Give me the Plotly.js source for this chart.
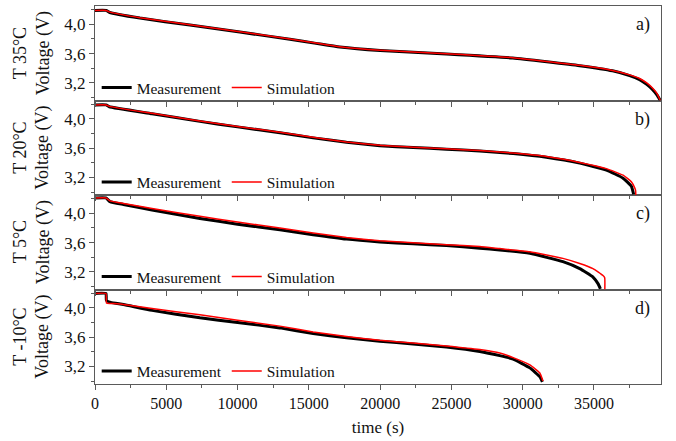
<!DOCTYPE html>
<html>
<head>
<meta charset="utf-8">
<script src="https://cdn.plot.ly/plotly-3.0.1.min.js"></script>
<style>html,body{margin:0;padding:0;background:#fff;}#chart{width:676px;height:441px;}</style>
</head>
<body>
<div id="chart"></div>
<script>
// ---- Data (time in s, voltage in V) ----
const panelLabels = ['a)', 'b)', 'c)', 'd)'];
const temperatures = ['T 35°C', 'T 20°C', 'T 5°C', 'T -10°C'];
const seriesNames = ['Measurement', 'Simulation'];
const xTickValues = [0, 5000, 10000, 15000, 20000, 25000, 30000, 35000];
const yTickValues = [3.2, 3.6, 4.0];

// a) 35 °C
const tA_meas = [0, 780, 1000, 3150, 6660, 10160, 13670, 15500, 17170, 20000, 24650, 29300, 34000, 36300, 37500, 38200, 38700, 39100, 39400, 39650];
const vA_meas = [4.19, 4.19, 4.165, 4.085, 3.99, 3.895, 3.795, 3.74, 3.69, 3.642, 3.595, 3.54, 3.435, 3.365, 3.30, 3.245, 3.18, 3.11, 3.04, 2.96];
const tA_sim  = [0, 780, 1000, 3150, 6660, 10160, 13670, 15500, 17170, 20000, 24650, 29300, 34000, 36300, 37500, 38200, 38700, 39100, 39400, 39650];
const vA_sim  = [4.19, 4.19, 4.17, 4.09, 3.995, 3.9, 3.80, 3.745, 3.695, 3.645, 3.598, 3.545, 3.44, 3.37, 3.31, 3.26, 3.20, 3.13, 3.06, 2.96];

// b) 20 °C
const tB_meas = [0, 780, 1000, 4000, 7360, 10000, 12970, 15300, 17640, 19980, 22310, 24650, 26990, 29330, 31660, 34000, 35870, 37040, 37620, 37780];
const vB_meas = [4.19, 4.19, 4.165, 4.07, 3.965, 3.89, 3.81, 3.74, 3.68, 3.633, 3.607, 3.586, 3.56, 3.525, 3.475, 3.395, 3.30, 3.19, 3.08, 2.97];
const tB_sim  = [0, 780, 1000, 4000, 7360, 10000, 12970, 15300, 17640, 19980, 22310, 24650, 26990, 29330, 31660, 34000, 35870, 37040, 37620, 37850, 37920, 37930];
const vB_sim  = [4.19, 4.19, 4.17, 4.075, 3.97, 3.895, 3.817, 3.747, 3.685, 3.638, 3.612, 3.591, 3.566, 3.532, 3.485, 3.405, 3.32, 3.23, 3.14, 3.06, 3.02, 2.96];

// c) 5 °C
const tC_meas = [0, 770, 1050, 2000, 4000, 7360, 10000, 12970, 15300, 17640, 19980, 22310, 24650, 26990, 28390, 30500, 32820, 34000, 34930, 35280, 35450];
const vC_meas = [4.21, 4.21, 4.16, 4.12, 4.045, 3.93, 3.852, 3.775, 3.708, 3.648, 3.61, 3.583, 3.56, 3.523, 3.50, 3.454, 3.34, 3.245, 3.13, 3.04, 2.97];
const tC_sim  = [0, 770, 1050, 2000, 4000, 7360, 10000, 12970, 15300, 17640, 19980, 22310, 24650, 26990, 28390, 30500, 32820, 34000, 34930, 35280, 35630, 35750, 35760];
const vC_sim  = [4.21, 4.21, 4.17, 4.135, 4.065, 3.96, 3.88, 3.80, 3.73, 3.67, 3.625, 3.597, 3.572, 3.546, 3.518, 3.476, 3.385, 3.315, 3.245, 3.20, 3.15, 3.12, 2.96];

// d) -10 °C
const tD_meas = [0, 770, 800, 1100, 2000, 4000, 7360, 10000, 12970, 15300, 17640, 19980, 22310, 24650, 26990, 28390, 29330, 30500, 31200, 31380];
const vD_meas = [4.196, 4.196, 4.10, 4.075, 4.045, 3.965, 3.863, 3.80, 3.726, 3.648, 3.59, 3.543, 3.507, 3.466, 3.405, 3.347, 3.30, 3.18, 3.06, 2.99];
const tD_sim  = [0, 770, 800, 1100, 2000, 4000, 7360, 10000, 12970, 15300, 17640, 19980, 22310, 24650, 26990, 28390, 29330, 30500, 31200, 31420];
const vD_sim  = [4.196, 4.196, 4.065, 4.06, 4.045, 3.99, 3.905, 3.83, 3.75, 3.67, 3.607, 3.556, 3.52, 3.48, 3.43, 3.384, 3.32, 3.22, 3.11, 3.0];

// ---- Build ----
const meas = [[tA_meas, vA_meas], [tB_meas, vB_meas], [tC_meas, vC_meas], [tD_meas, vD_meas]];
const sims = [[tA_sim, vA_sim], [tB_sim, vB_sim], [tC_sim, vC_sim], [tD_sim, vD_sim]];

const FONT = 'Liberation Serif, Times New Roman, serif';
const FRAME = '#5a5a5a';
const domains = [[0.75, 1], [0.5, 0.75], [0.25, 0.5], [0, 0.25]];
const axIdx = [4, 3, 2, 1];

const traces = [];
const layout = {
  width: 676, height: 441,
  margin: {l: 95, r: 15, t: 6, b: 57},
  paper_bgcolor: '#fff', plot_bgcolor: '#fff',
  font: {family: FONT, color: '#111', size: 16},
  separators: ',.',
  showlegend: true,
  annotations: []
};

for (let i = 0; i < 4; i++) {
  const n = axIdx[i];
  const xa = n === 1 ? 'x' : 'x' + n;
  const ya = n === 1 ? 'y' : 'y' + n;
  const lg = i === 0 ? 'legend' : 'legend' + (i + 1);
  traces.push({
    x: meas[i][0], y: meas[i][1], xaxis: xa, yaxis: ya, type: 'scatter', mode: 'lines',
    name: seriesNames[0], legend: lg, line: {color: '#000', width: 3, shape: 'spline', smoothing: 0.4}
  });
  traces.push({
    x: sims[i][0], y: sims[i][1], xaxis: xa, yaxis: ya, type: 'scatter', mode: 'lines',
    name: seriesNames[1], legend: lg, line: {color: '#ff0000', width: 1.5, shape: 'spline', smoothing: 0.4}
  });

  const xKey = n === 1 ? 'xaxis' : 'xaxis' + n;
  const yKey = n === 1 ? 'yaxis' : 'yaxis' + n;
  layout[xKey] = {
    anchor: ya, domain: [0, 1], range: [0, 39700],
    tickvals: xTickValues, ticktext: xTickValues.map(String),
    showticklabels: n === 1,
    ticks: 'outside', ticklen: 5, tickwidth: 1, tickcolor: FRAME,
    minor: {tickvals: xTickValues.map(v => v + 2500), ticks: 'outside', ticklen: 3, tickcolor: FRAME},
    showline: true, mirror: true, linecolor: FRAME, linewidth: 1,
    showgrid: false, zeroline: false,
    tickfont: {family: FONT, size: 16, color: '#111'}
  };
  if (n !== 1) layout[xKey].matches = 'x';
  if (n === 1) layout[xKey].title = {text: 'time (s)', font: {family: FONT, size: 17, color: '#111'}, standoff: 9};

  layout[yKey] = {
    anchor: xa, domain: domains[i], range: [2.96, 4.25],
    tickvals: yTickValues, tickformat: '.1f',
    ticks: 'outside', ticklen: 5, tickwidth: 1, tickcolor: FRAME,
    minor: {tickvals: [3.0, 3.4, 3.8, 4.2], ticks: 'outside', ticklen: 3, tickcolor: FRAME},
    showline: true, mirror: true, linecolor: FRAME, linewidth: 1,
    showgrid: false, zeroline: false,
    tickfont: {family: FONT, size: 17, color: '#111'}
  };

  layout[lg] = {
    x: 0.003, xanchor: 'left', y: domains[i][0] - 0.012, yanchor: 'bottom',
    orientation: 'h', bgcolor: 'rgba(0,0,0,0)', borderwidth: 0,
    font: {family: FONT, size: 15.5, color: '#111'},
    itemwidth: 30, tracegroupgap: 0, traceorder: 'normal'
  };

  const mid = (domains[i][0] + domains[i][1]) / 2;
  layout.annotations.push({
    xref: 'paper', yref: 'paper', x: -0.1325, y: mid, xanchor: 'center', yanchor: 'middle',
    text: temperatures[i], textangle: -90, showarrow: false,
    font: {family: FONT, size: 18, color: '#111'}
  });
  layout.annotations.push({
    xref: 'paper', yref: 'paper', x: -0.092, y: mid, xanchor: 'center', yanchor: 'middle',
    text: 'Voltage (V)', textangle: -90, showarrow: false,
    font: {family: FONT, size: 18, color: '#111'}
  });
  layout.annotations.push({
    xref: 'paper', yref: 'paper', x: 1, y: domains[i][1], xanchor: 'right', yanchor: 'top',
    xshift: -9, yshift: -6,
    text: panelLabels[i], showarrow: false,
    font: {family: FONT, size: 18, color: '#111'}
  });
}

Plotly.newPlot('chart', traces, layout, {displayModeBar: false, staticPlot: true});
</script>
</body>
</html>
